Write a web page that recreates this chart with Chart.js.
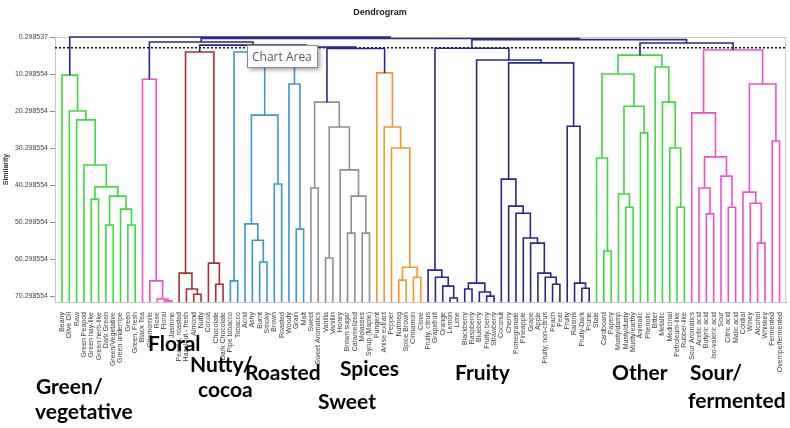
<!DOCTYPE html>
<html>
<head>
<meta charset="utf-8">
<script src="https://cdn.jsdelivr.net/npm/chart.js@4/dist/chart.umd.min.js"></script>
<style>
  html, body { margin: 0; padding: 0; background: #fff; }
  #wrap { width: 790px; height: 428px; }
</style>
</head>
<body>
<div id="wrap"><canvas id="dendro"></canvas></div>
<script>
// leaf order along the x axis
const leafNames = [
  'Beany', 'Olive Oil', 'Raw', 'Green Peapod', 'Green hay-like', 'Green herb-like', 'Dark Green',
  'Green/Vegetative', 'Green underripe', 'Green', 'Green, Fresh',
  'Black Tea', 'Chamomile', 'Rose', 'Floral', 'Jasmine',
  'Peanut, roasted', 'Hazelnut - fresh', 'Almond', 'Nutty', 'Cocoa', 'Chocolate', 'Dark Chocolate',
  'Pipe tobacco', 'Tobacco', 'Acrid', 'Ashy', 'Burnt', 'Smoky', 'Brown', 'Roasted', 'Woody', 'Grain', 'Malt',
  'Sweet', 'Sweet Aromatics', 'Vanilla', 'Vanillin', 'Honey', 'Brown sugar', 'Caramelized', 'Molasses', 'Syrup (Maple)',
  'Pungent', 'Anise extract', 'Pepper', 'Nutmeg', 'Spice Brown', 'Cinnamon', 'Clove',
  'Fruity, citrus', 'Grapefruit', 'Orange', 'Lemon', 'Lime', 'Blackberry', 'Raspberry', 'Blueberry',
  'Fruity, berry', 'Strawberry', 'Coconut', 'Cherry', 'Pomegranate', 'Pineapple', 'Grape', 'Apple',
  'Fruity, non-citrus', 'Peach', 'Pear', 'Fruity', 'Raisins', 'Fruity-Dark', 'Prune',
  'Stale', 'Cardboard', 'Papery', 'Musty/damp', 'Musty/dusty', 'Musty/earthy', 'Animalic', 'Phenolic',
  'Bitter', 'Metallic', 'Medicinal', 'Petroleum-like', 'Rubber-like',
  'Sour Aromatics', 'Acetic acid', 'Butyric acid', 'Iso-valeric acid', 'Sour', 'Citric acid', 'Malic acid',
  'Cordial', 'Winey', 'Alcohol', 'Whiskey', 'Fermented', 'Overripe/fermented'
];

const yTickValues = [0.298537, 10.298554, 20.298554, 30.298554, 40.298554, 50.298554, 60.298554, 70.298554];
const yTickLabels = ['0.298537', '10.298554', '20.298554', '30.298554', '40.298554', '50.298554', '60.298554', '70.298554'];
const leafLevel = 71.9;
const cutLevel = 3.2;

// merges: [left, right, similarity]; a number is a leaf position
const greenTree = [0, [1, [2, [3, [[4, 5, 44.1], [[6, 7, 51.1], [8, [9, 10, 51.1], 46.8], 43.3], 40.8], 34.9], 22.7], 20.3], 10.6];
const floralTree = [11, [12, [13, [14, 15, 71.6], 71.1], 66.2], 11.7];
const nuttyTree = [[16, [17, [18, 19, 69.8], 68.4], 64.1], [20, [21, 22, 67.1], 61.4], 4.35];
const roastedTree = [[23, 24, 66.2], [[[25, [26, [27, 28, 61.1], 55.2], 50.8], [29, 30, 40.0], 21.4], [31, [32, 33, 52.2], 13.0], 6.5], 4.35];
const sweetTree = [[34, 35, 41.1], [[36, 37, 60.0], [38, [[39, 40, 53.3], [41, 42, 53.3], 43.3], 36.2], 24.6], 17.9];
const spicesTree = [43, [44, [45, [[46, 47, 66.0], [48, 49, 65.2], 62.5], 30.3], 24.6], 10.0];
const citrusTree = [50, [51, [52, [53, 54, 70.8], 67.6], 65.2], 63.3];
const berryTree = [[55, 56, 68.4], [57, [58, 59, 70.3], 69.2], 66.8];
const stoneTree = [60, [61, [62, [63, [64, [65, [66, [67, 68, 67.1], 65.2], 64.1], 56.0], 54.6], 47.9], 46.0], 38.7];
const darkTree = [69, [70, [71, 72, 68.2], 66.8], 24.4];
const fruityTree = [citrusTree, [berryTree, [stoneTree, darkTree, 7.3], 6.5], 3.35];
const otherTree = [[[73, [74, 75, 58.1], 33.0], [[76, [77, 78, 46.3], 42.7], [79, 80, 26.2], 19.0], 10.3],
                   [81, [82, [83, [84, 85, 46.3], 30.3], 17.9], 8.4], 5.2];
const sourTree = [[86, [[87, [88, 89, 48.1], 41.1], [90, [91, 92, 46.3], 37.9], 32.7], 20.8],
                  [[93, [94, [95, 96, 56.0], 45.2], 42.2], [97, 98, 28.4], 13.0], 3.8];
const rootTree = [greenTree,
  [[floralTree, [nuttyTree, [roastedTree, [sweetTree, spicesTree, 3.4], 3.0], 2.5], 1.65],
   [fruityTree, [otherTree, sourTree, 1.9], 1.0], 0.7], 0.3];

const linkColor = '#27288a';
const colorOf = new Map([
  [greenTree, '#3fd83f'], [floralTree, '#ef4fcb'], [nuttyTree, '#a8302c'], [roastedTree, '#3a98cc'],
  [sweetTree, '#8f8f8f'], [spicesTree, '#f5962a'], [fruityTree, linkColor], [otherTree, '#3fd83f'],
  [sourTree, '#ef4fcb']
]);

// turn the tree into U-shaped links, grouped by colour
const linkSets = {};
function walk(node, color) {
  if (typeof node === 'number') return { x: node, y: leafLevel };
  const c = colorOf.get(node) || color;
  const a = walk(node[0], c);
  const b = walk(node[1], c);
  const h = node[2];
  (linkSets[c] = linkSets[c] || []).push(
    { x: a.x, y: a.y }, { x: a.x, y: h }, { x: b.x, y: h }, { x: b.x, y: b.y }, { x: a.x, y: null });
  return { x: (a.x + b.x) / 2, y: h };
}
walk(rootTree, linkColor);

const datasets = Object.keys(linkSets).map(c => ({
  data: linkSets[c], borderColor: c, borderWidth: 1.6, showLine: true,
  pointRadius: 0, spanGaps: false, clip: false, order: c === linkColor ? 0 : 1
}));
datasets.push({
  data: [{ x: -0.95, y: cutLevel }, { x: 98.9, y: cutLevel }],
  borderColor: '#111', borderWidth: 1.5, borderDash: [2, 2], showLine: true, pointRadius: 0, order: 2
});

const groupLabels = [
  { lines: ['Green/', 'vegetative'], x: [36, 35], y: [394, 419] },
  { lines: ['Floral'], x: [148], y: [351] },
  { lines: ['Nutty/', 'cocoa'], x: [190, 198], y: [372, 397] },
  { lines: ['Roasted'], x: [245], y: [380] },
  { lines: ['Sweet'], x: [318], y: [409] },
  { lines: ['Spices'], x: [340], y: [376] },
  { lines: ['Fruity'], x: [455], y: [380] },
  { lines: ['Other'], x: [612], y: [380] },
  { lines: ['Sour/', 'fermented'], x: [690, 688], y: [380, 408] }
];

const decor = {
  id: 'decor',
  beforeDatasetsDraw(chart) {
    const a = chart.chartArea, ctx = chart.ctx;
    ctx.save();
    ctx.strokeStyle = '#c8c8c8';
    ctx.lineWidth = 1;
    ctx.strokeRect(a.left + 0.5, a.top + 0.5, a.right - a.left - 1, a.bottom - a.top);
    ctx.restore();
  },
  afterDraw(chart) {
    const ctx = chart.ctx;
    ctx.save();
    // title
    ctx.fillStyle = '#222';
    ctx.font = 'bold 9px "Liberation Sans"';
    ctx.textAlign = 'center';
    ctx.textBaseline = 'middle';
    ctx.fillText('Dendrogram', 380, 13);
    // hover box left in the screenshot
    ctx.shadowColor = 'rgba(0,0,0,0.35)';
    ctx.shadowBlur = 4;
    ctx.shadowOffsetX = 2;
    ctx.shadowOffsetY = 2;
    ctx.fillStyle = '#fff';
    ctx.fillRect(247, 45, 71, 23);
    ctx.shadowColor = 'transparent';
    ctx.strokeStyle = '#8a8a8a';
    ctx.strokeRect(247.5, 45.5, 70, 22);
    ctx.fillStyle = '#595959';
    ctx.font = '12px "Open Sans"';
    ctx.textAlign = 'left';
    ctx.textBaseline = 'alphabetic';
    ctx.fillText('Chart Area', 252, 61);
    // group names under the axis
    ctx.fillStyle = '#000';
    ctx.font = 'bold 21px Lato';
    groupLabels.forEach(g => g.lines.forEach((t, i) => ctx.fillText(t, g.x[i], g.y[i])));
    ctx.restore();
  }
};

new Chart(document.getElementById('dendro'), {
  type: 'scatter',
  data: { datasets: datasets },
  options: {
    responsive: true,
    maintainAspectRatio: false,
    animation: false,
    events: [],
    layout: { padding: { top: 37, right: 3, bottom: 56, left: 0 } },
    plugins: { legend: { display: false }, tooltip: { enabled: false }, title: { display: false } },
    scales: {
      x: {
        type: 'linear', min: -0.95, max: 98.9,
        afterBuildTicks: s => { s.ticks = leafNames.map((n, i) => ({ value: i })); },
        afterFit: s => { s.height = 70; },
        grid: { display: false },
        border: { color: '#8c8c8c' },
        ticks: {
          autoSkip: false, minRotation: 90, maxRotation: 90, padding: 2,
          color: '#404040', font: { family: 'Liberation Sans', size: 7 },
          callback: v => leafNames[v]
        }
      },
      y: {
        reverse: true, min: 0.298537, max: leafLevel,
        afterBuildTicks: s => { s.ticks = yTickValues.map(v => ({ value: v })); },
        afterFit: s => { s.width = 55; },
        grid: { drawOnChartArea: false, tickLength: 5, color: '#8c8c8c' },
        border: { color: '#8c8c8c' },
        title: { display: true, text: 'Similarity', color: '#333', font: { family: 'Liberation Sans', size: 7, weight: 'bold' }, padding: { top: 2, bottom: 0 } },
        ticks: {
          padding: 2, color: '#444', font: { family: 'Liberation Sans', size: 7 },
          callback: (v, i) => yTickLabels[i]
        }
      }
    }
  },
  plugins: [decor]
});
</script>
</body>
</html>
